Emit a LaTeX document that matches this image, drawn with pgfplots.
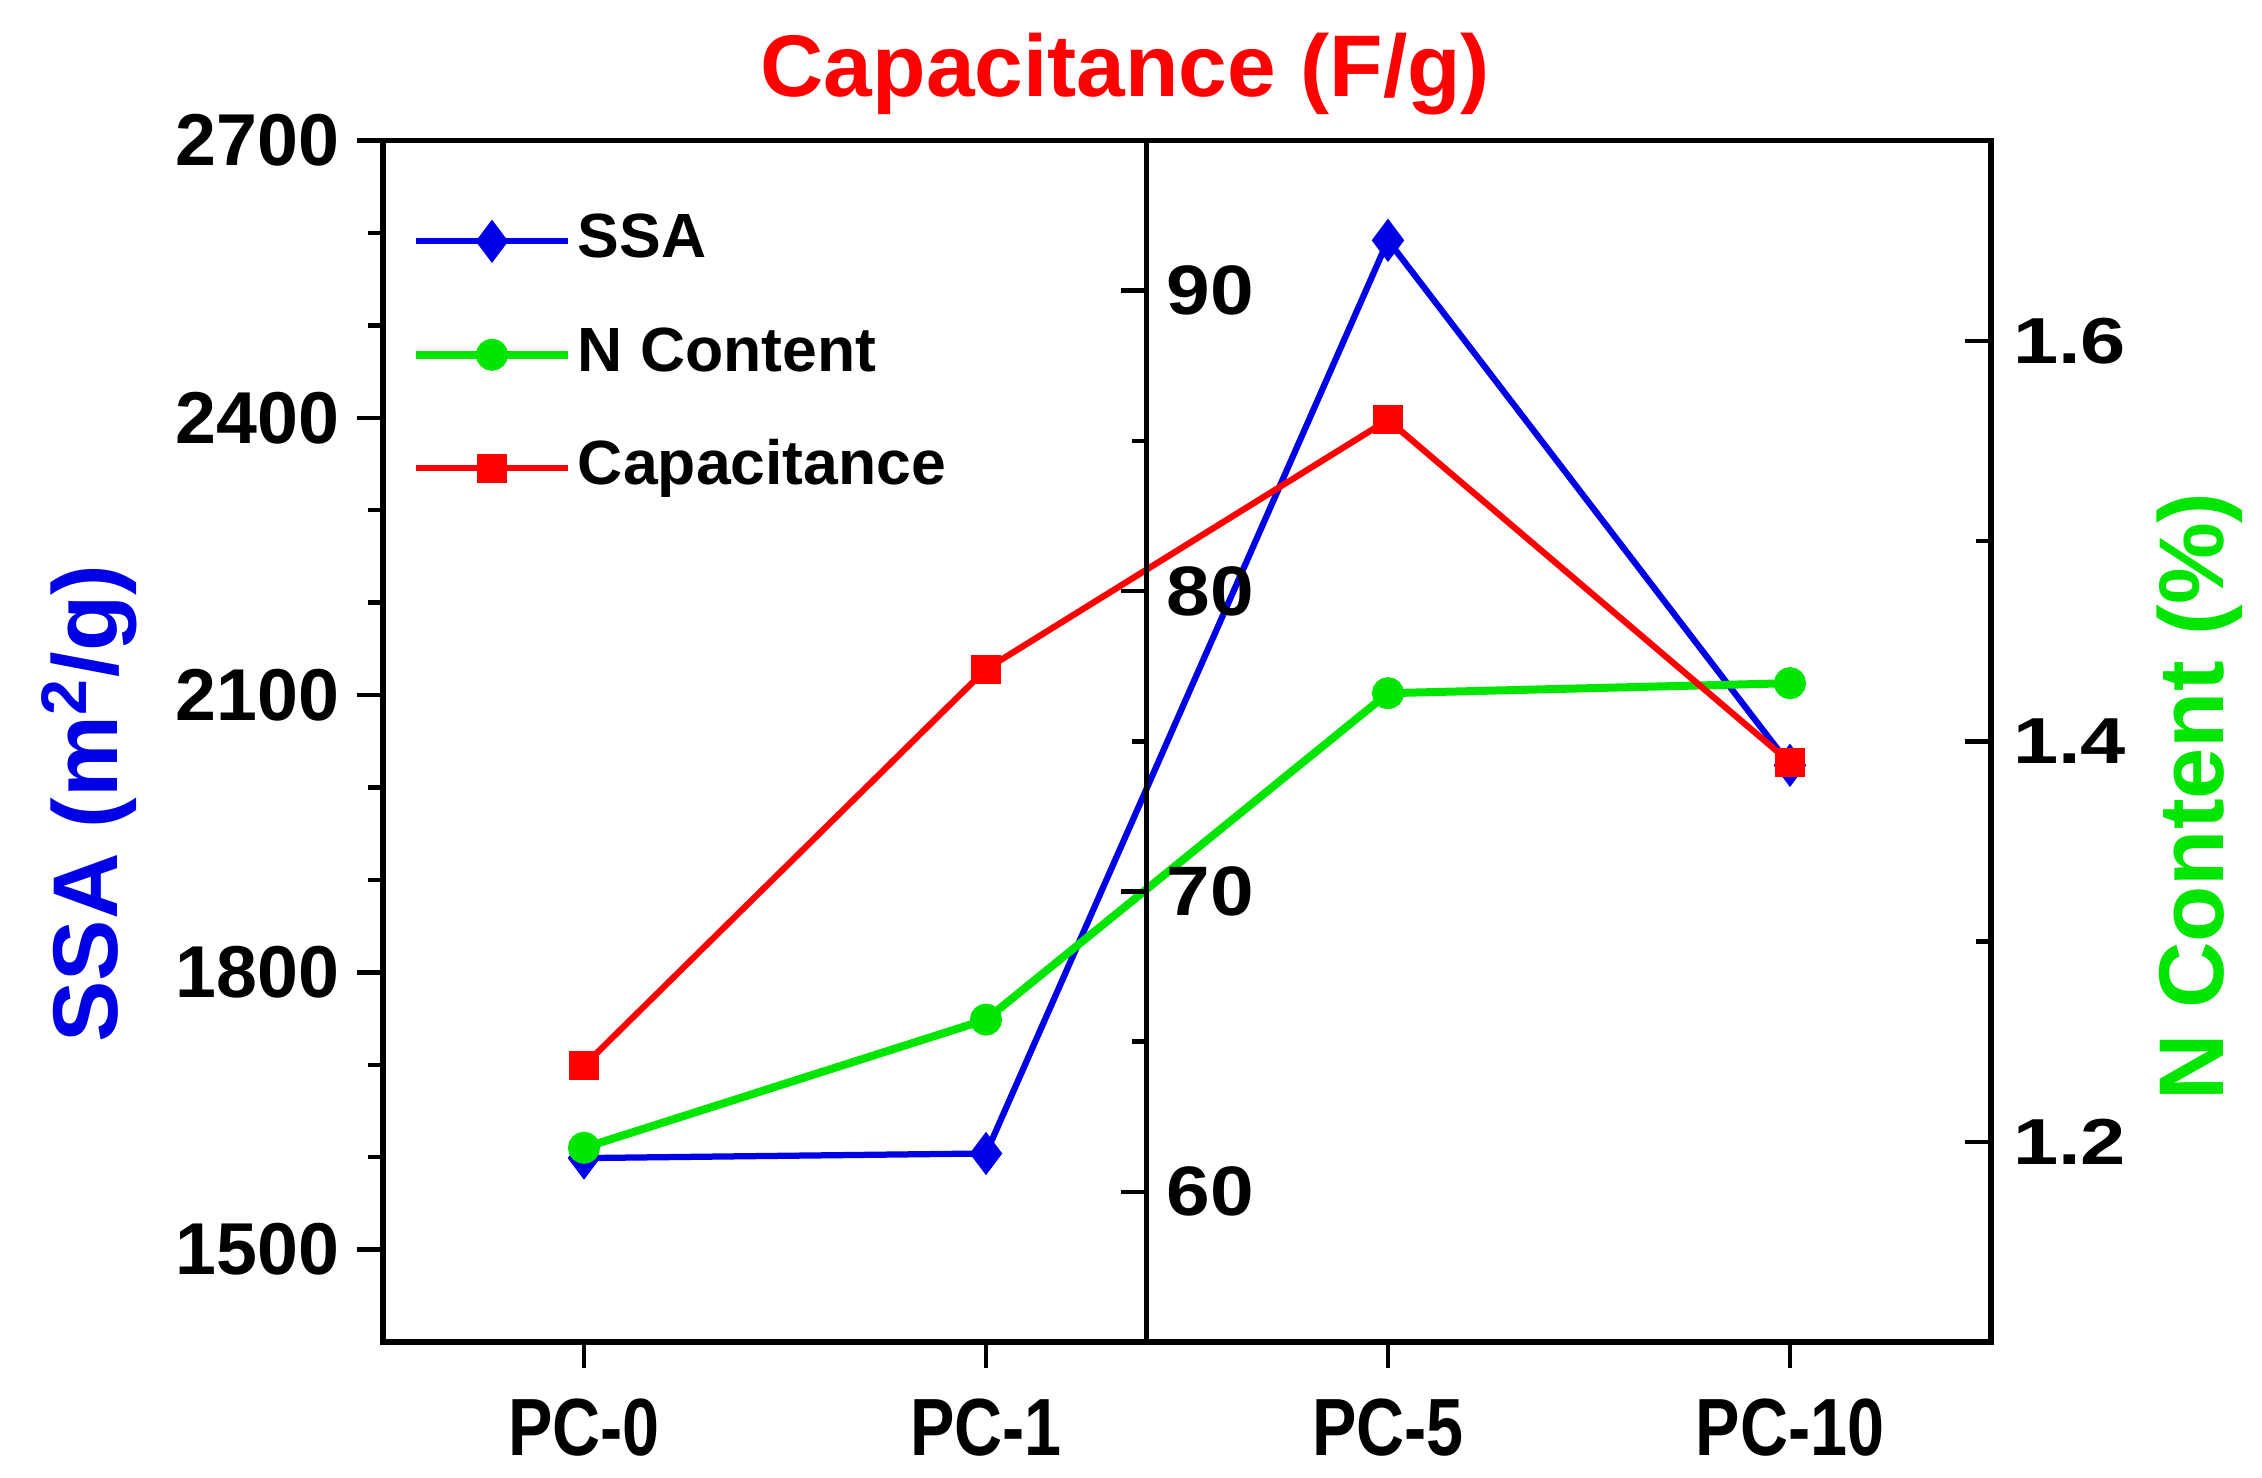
\documentclass[border=0pt]{standalone}
\usepackage{fontspec}
\setmainfont{Liberation Sans}
\usepackage{pgfplots}
\pgfplotsset{compat=1.18}
\definecolor{cblue}{RGB}{0,0,230}
\definecolor{cred}{RGB}{255,0,0}
\definecolor{cgreen}{RGB}{0,230,0}
\begin{document}
\begin{tikzpicture}
\useasboundingbox (-76.6pt,-27pt) rectangle (375.8pt,268.4pt);
\pgfplotsset{
  every axis/.append style={
    scale only axis, width=321.6pt, height=240.3pt,
    xmin=-0.5, xmax=3.5,
    axis line style={line width=1.05pt},
    /pgf/number format/assume math mode=true,
    major tick length=5.2pt, minor tick length=3pt,
    tick style={black, line width=0.9pt},
  },
}
% Axis 1: SSA (left), x categories, frame, legend, title
\begin{axis}[
  at={(0,0)}, anchor=south west,
  ymin=1400, ymax=2700,
  xtick={0,1,2,3}, xticklabels={PC-0,PC-1,PC-5,PC-10},
  xtick pos=bottom, ytick pos=left, tick align=outside,
  ytick={1500,1800,2100,2400,2700},
  minor ytick={1600,1700,1900,2000,2200,2300,2500,2600},
  yticklabel style={font=\fontsize{14.7}{17}\selectfont\bfseries},
  xticklabel style={font=\fontsize{13.3}{16}\selectfont\bfseries, yscale=1.22, yshift=-1.5pt},
  /pgf/number format/.cd, 1000 sep={}, /pgfplots/.cd,
  ylabel={SSA (m\textsuperscript{2}/g)},
  every axis y label/.style={at={(axis description cs:-0.1825,0.448)}, rotate=90, anchor=center,
    font=\fontsize{18.4}{21}\selectfont\bfseries, text=cblue},
  title={Capacitance (F/g)},
  title style={at={(axis description cs:0.4617,1)}, anchor=base, yshift=2.8pt,
    font=\fontsize{17.5}{20}\selectfont\bfseries, text=cred},
  legend style={at={(axis description cs:0.0174,1)}, anchor=north west, yshift=-13.2pt,
    draw=none, fill=none, inner sep=0pt, row sep=9.2pt, column sep=0.2pt,
    font=\fontsize{12.5}{15}\selectfont\bfseries,
    nodes={inner sep=1pt, text height=9pt, text depth=2.5pt}},
  legend cell align=left,
  legend image code/.code={\draw[mark repeat=2,mark phase=2] plot coordinates {(0pt,0pt) (15.2pt,0pt) (30.4pt,0pt)};},
]
\addplot[cblue, line width=1.25pt, mark=diamond*, mark size=3.3pt, mark options={solid}]
  coordinates {(0,1599) (1,1604) (2,2592) (3,2024)};
\addlegendentry{SSA}
\addlegendimage{cgreen, line width=1.6pt, mark=*, mark size=2.4pt}
\addlegendentry{N Content}
\addlegendimage{cred, line width=1.25pt, mark=square*, mark size=2.3pt}
\addlegendentry{Capacitance}
\end{axis}
% Axis 2: N content (right)
\begin{axis}[
  at={(0,0)}, anchor=south west,
  ymin=1.1, ymax=1.7,
  axis y line*=right, axis x line=none, tick align=inside,
  ytick={1.2,1.4,1.6}, minor ytick={1.3,1.5},
  yticklabel style={font=\fontsize{13}{16}\selectfont\bfseries, xscale=1.25,
    /pgf/number format/.cd, fixed, fixed zerofill, precision=1},
  ylabel={N Content (\%)},
  every axis y label/.style={at={(axis description cs:1.130,0.454)}, rotate=90, anchor=center,
    font=\fontsize{18.4}{21}\selectfont\bfseries, text=cgreen},
]
\addplot[cgreen, line width=1.6pt, mark=*, mark size=2.4pt]
  coordinates {(0,1.197) (1,1.261) (2,1.424) (3,1.429)};
\end{axis}
% Axis 3: capacitance data
\begin{axis}[
  at={(0,0)}, anchor=south west,
  ymin=55, ymax=95, hide axis,
]
\addplot[cred, line width=1.25pt, mark=square*, mark size=2.3pt]
  coordinates {(0,64.2) (1,77.4) (2,85.7) (3,74.3)};
\end{axis}
% Axis 4: capacitance spine at x = 1.4
\begin{axis}[
  at={(0,0)}, anchor=south west,
  width=152.76pt, xmin=0, xmax=1,
  ymin=55, ymax=95,
  axis y line*=right, hide x axis, tick align=inside,
  ytick={60,70,80,90}, minor ytick={65,75,85},
  yticklabel style={font=\fontsize{14}{16}\selectfont\bfseries, xscale=1.12},
]
\addplot[draw=none] coordinates {(0.5,60)};
\end{axis}
\end{tikzpicture}
\end{document}
